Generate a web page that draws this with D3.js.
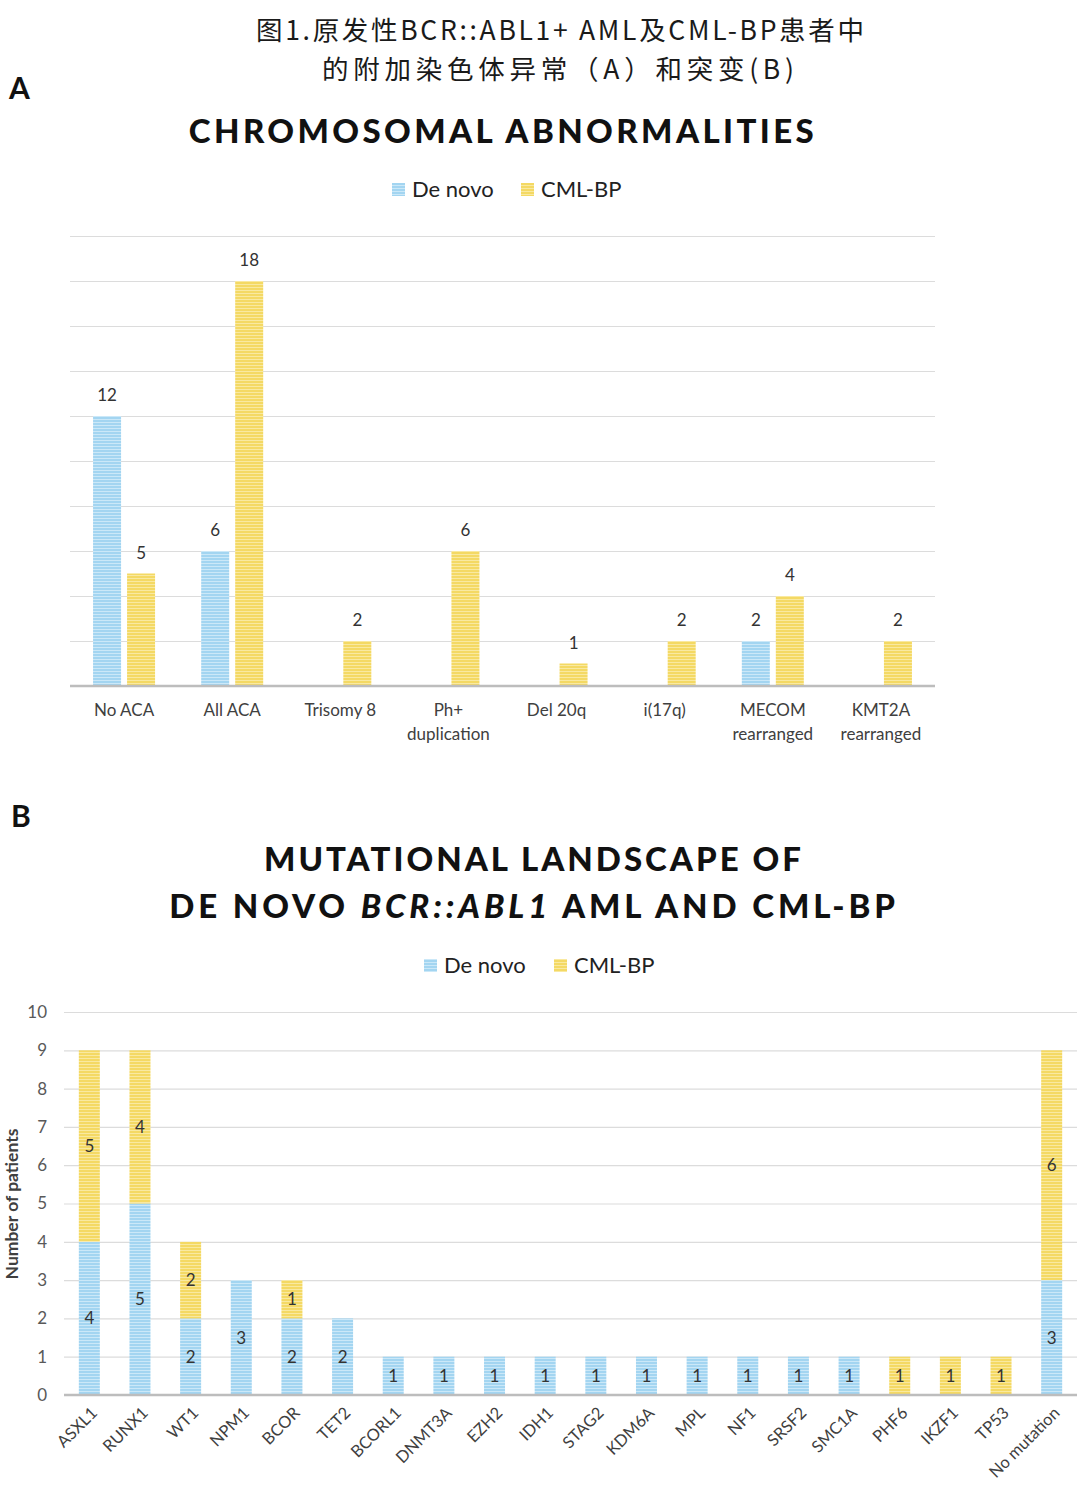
<!DOCTYPE html>
<html>
<head>
<meta charset="utf-8">
<script src="https://cdn.jsdelivr.net/npm/d3@7"></script>
<style>
  html, body { margin: 0; padding: 0; background: #fff; }
  svg { display: block; }
</style>
</head>
<body>
<svg id="chart" width="1080" height="1493"></svg>
<script>
// ---------- DATA ----------
const seriesNames = ["De novo", "CML-BP"];

const chromCategories = ["No ACA", "All ACA", "Trisomy 8", "Ph+\nduplication", "Del 20q", "i(17q)", "MECOM\nrearranged", "KMT2A\nrearranged"];
const chromDeNovo = [12, 6, 0, 0, 0, 0, 2, 0];
const chromCMLBP  = [5, 18, 2, 6, 1, 2, 4, 2];
const chromTicks  = [0, 2, 4, 6, 8, 10, 12, 14, 16, 18, 20];

const mutCategories = ["ASXL1", "RUNX1", "WT1", "NPM1", "BCOR", "TET2", "BCORL1", "DNMT3A", "EZH2", "IDH1", "STAG2", "KDM6A", "MPL", "NF1", "SRSF2", "SMC1A", "PHF6", "IKZF1", "TP53", "No mutation"];
const mutDeNovo = [4, 5, 2, 3, 2, 2, 1, 1, 1, 1, 1, 1, 1, 1, 1, 1, 0, 0, 0, 3];
const mutCMLBP  = [5, 4, 2, 0, 1, 0, 0, 0, 0, 0, 0, 0, 0, 0, 0, 0, 1, 1, 1, 6];
const mutTicks  = [0, 1, 2, 3, 4, 5, 6, 7, 8, 9, 10];

// ---------- SETUP ----------
const svg = d3.select("#chart");
const FONT = "Lato, 'Open Sans', 'Noto Sans', sans-serif";
const BLUE = "#a3d5f1", BLUE_L = "#cbe8f8";
const YEL = "#f4d964", YEL_L = "#f9e9a0";

const defs = svg.append("defs");
function stripe(id, base, light) {
  const p = defs.append("pattern").attr("id", id).attr("patternUnits", "userSpaceOnUse")
    .attr("width", 6).attr("height", 3);
  p.append("rect").attr("width", 6).attr("height", 3).attr("fill", base);
  p.append("rect").attr("y", 2).attr("width", 6).attr("height", 1).attr("fill", light);
}
stripe("pBlue", BLUE, BLUE_L);
stripe("pYel", YEL, YEL_L);
const fills = ["url(#pBlue)", "url(#pYel)"];

// ---------- HEADER ----------
const cjk = "'Noto Sans CJK SC', 'Noto Sans CJK JP', sans-serif";
svg.append("text").attr("x", 560).attr("y", 40).attr("text-anchor", "middle")
  .attr("font-family", cjk).attr("font-size", 26.5).attr("fill", "#1a1a1a")
  .attr("textLength", 608).attr("lengthAdjust", "spacing")
  .text("图1.原发性BCR::ABL1+ AML及CML-BP患者中");
svg.append("text").attr("x", 558).attr("y", 79).attr("text-anchor", "middle")
  .attr("font-family", cjk).attr("font-size", 26.5).attr("fill", "#1a1a1a")
  .attr("textLength", 472).attr("lengthAdjust", "spacing")
  .text("的附加染色体异常（A）和突变(B)");

svg.append("text").attr("x", 9).attr("y", 99).attr("font-family", FONT)
  .attr("font-weight", 700).attr("font-size", 30).attr("fill", "#111").text("A");
svg.append("text").attr("x", 11).attr("y", 827).attr("font-family", FONT)
  .attr("font-weight", 700).attr("font-size", 30).attr("fill", "#111").text("B");

// ---------- LEGEND ----------
function legend(y, xs) {
  seriesNames.forEach((name, i) => {
    svg.append("rect").attr("x", xs[i]).attr("y", y - 7).attr("width", 13).attr("height", 13)
      .attr("fill", fills[i]);
    svg.append("text").attr("x", xs[i] + 20).attr("y", y + 7).attr("font-family", FONT)
      .attr("font-size", 22).attr("fill", "#222").text(name);
  });
}

// ---------- PANEL A ----------
svg.append("text").attr("x", 503).attr("y", 143).attr("text-anchor", "middle")
  .attr("font-family", FONT).attr("font-weight", 900).attr("font-size", 33)
  .attr("letter-spacing", 3.4).attr("fill", "#111").text("CHROMOSOMAL ABNORMALITIES");
legend(190, [392, 521]);

const A = { left: 70, right: 935, top: 236, bottom: 686 };
const xA = d3.scaleBand().domain(chromCategories).range([A.left, A.right]).padding(0);
const yA = d3.scaleLinear().domain([0, 20]).range([A.bottom, A.top]);
const gA = svg.append("g");
gA.append("g").attr("transform", `translate(${A.left},0)`)
  .call(d3.axisLeft(yA).tickValues(chromTicks).tickSize(-(A.right - A.left)).tickFormat(""))
  .call(g => g.select(".domain").remove())
  .call(g => g.selectAll(".tick line").attr("stroke", "#dcdcdc").attr("stroke-width", 1.2));

const barW_A = 28, gapA = 6;
const chromSeries = [chromDeNovo, chromCMLBP];
chromSeries.forEach((vals, si) => {
  const off = si === 0 ? -(gapA / 2 + barW_A) : gapA / 2;
  chromCategories.forEach((c, i) => {
    const v = vals[i];
    if (!v) return;
    const cx = xA(c) + xA.bandwidth() / 2;
    gA.append("rect").attr("x", cx + off).attr("y", yA(v)).attr("width", barW_A)
      .attr("height", yA(0) - yA(v)).attr("fill", fills[si]);
    gA.append("text").attr("x", cx + off + barW_A / 2).attr("y", yA(v) - 15)
      .attr("text-anchor", "middle").attr("font-family", FONT).attr("font-size", 17)
      .attr("fill", "#333").text(v);
  });
});
gA.append("line").attr("x1", A.left).attr("x2", A.right).attr("y1", yA(0)).attr("y2", yA(0))
  .attr("stroke", "#bdbdbd").attr("stroke-width", 2.5);
const xAxA = gA.append("g").attr("transform", `translate(0,${A.bottom})`)
  .call(d3.axisBottom(xA).tickSize(0).tickFormat(""));
xAxA.select(".domain").remove();
chromCategories.forEach(c => {
  const cx = xA(c) + xA.bandwidth() / 2;
  const lines = c.split("\n");
  const t = gA.append("text").attr("text-anchor", "middle").attr("font-family", FONT)
    .attr("font-size", 17).attr("fill", "#404040");
  lines.forEach((ln, k) => {
    t.append("tspan").attr("x", cx).attr("y", A.bottom + 30 + k * 24).text(ln);
  });
});

// ---------- PANEL B ----------
svg.append("text").attr("x", 534).attr("y", 871).attr("text-anchor", "middle")
  .attr("font-family", FONT).attr("font-weight", 900).attr("font-size", 33)
  .attr("letter-spacing", 3).attr("fill", "#111").text("MUTATIONAL LANDSCAPE OF");
const t2 = svg.append("text").attr("x", 534).attr("y", 918).attr("text-anchor", "middle")
  .attr("font-family", FONT).attr("font-weight", 900).attr("font-size", 33)
  .attr("letter-spacing", 3.9).attr("fill", "#111");
t2.append("tspan").text("DE NOVO ");
t2.append("tspan").attr("font-style", "italic").text("BCR::ABL1");
t2.append("tspan").text(" AML AND CML-BP");
legend(966, [424, 554]);

const B = { left: 64, right: 1077, top: 1012, bottom: 1395 };
const xB = d3.scaleBand().domain(mutCategories).range([B.left, B.right]).padding(0);
const yB = d3.scaleLinear().domain([0, 10]).range([B.bottom, B.top]);
const gB = svg.append("g");
gB.append("g").attr("transform", `translate(${B.left},0)`)
  .call(d3.axisLeft(yB).tickValues(mutTicks).tickSize(-(B.right - B.left)).tickPadding(17))
  .call(g => g.select(".domain").remove())
  .call(g => g.selectAll(".tick line").attr("stroke", "#dcdcdc").attr("stroke-width", 1.2))
  .call(g => g.selectAll(".tick text").attr("font-family", FONT).attr("font-size", 17)
    .attr("fill", "#595959"));

const barW_B = 21;
const stackData = d3.stack().keys([0, 1])(mutCategories.map((c, i) => ({ cat: c, 0: mutDeNovo[i], 1: mutCMLBP[i] })));
stackData.forEach((layer, si) => {
  layer.forEach(d => {
    const v = d[1] - d[0];
    if (!v) return;
    const cx = xB(d.data.cat) + xB.bandwidth() / 2;
    gB.append("rect").attr("x", cx - barW_B / 2).attr("y", yB(d[1])).attr("width", barW_B)
      .attr("height", yB(d[0]) - yB(d[1])).attr("fill", fills[si]);
    gB.append("text").attr("x", cx).attr("y", (yB(d[0]) + yB(d[1])) / 2 + 6)
      .attr("text-anchor", "middle").attr("font-family", FONT).attr("font-size", 17)
      .attr("fill", "#333").text(v);
  });
});
gB.append("line").attr("x1", B.left).attr("x2", B.right).attr("y1", yB(0)).attr("y2", yB(0))
  .attr("stroke", "#bdbdbd").attr("stroke-width", 2.5);
const xAxB = gB.append("g").attr("transform", `translate(0,${B.bottom})`)
  .call(d3.axisBottom(xB).tickSize(0).tickPadding(0));
xAxB.select(".domain").remove();
xAxB.selectAll(".tick text")
  .attr("font-family", FONT).attr("font-size", 16.5).attr("fill", "#404040")
  .attr("text-anchor", "end").attr("dy", null).attr("y", 0).attr("x", 0)
  .attr("transform", "translate(9,19) rotate(-45)");

svg.append("text").attr("transform", "translate(18,1204) rotate(-90)")
  .attr("text-anchor", "middle").attr("font-family", FONT).attr("font-weight", 700)
  .attr("font-size", 17.5).attr("fill", "#404040").text("Number of patients");
</script>
</body>
</html>
